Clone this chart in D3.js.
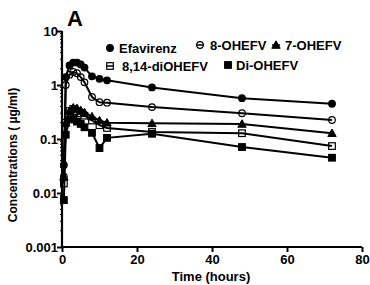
<!DOCTYPE html>
<html>
<head>
<meta charset="utf-8">
<script src="https://cdn.jsdelivr.net/npm/d3@7"></script>
<style>
body{margin:0;background:#fff;}
text{font-family:"Liberation Sans",Arial,sans-serif;font-weight:bold;fill:#000;}
</style>
</head>
<body>
<div id="chart"></div>
<script>
// sampling times (hours)
var times = [0.5, 1, 2, 3, 4, 5, 6, 8, 10, 12, 24, 48, 72];

// concentrations (ug/ml)
var efavirenz = [0.033, 1.4, 2.3, 2.6, 2.6, 2.4, 2.1, 1.45, 1.3, 1.22, 0.9, 0.57, 0.45];
var oh8 = [0.02, 1.0, 1.55, 1.75, 1.65, 1.4, 1.12, 0.6, 0.48, 0.47, 0.39, 0.3, 0.225];
var oh7 = [0.02, 0.2, 0.33, 0.38, 0.37, 0.34, 0.31, 0.26, 0.22, 0.2, 0.195, 0.19, 0.128];
var dioh814 = [0.015, 0.2, 0.33, 0.36, 0.33, 0.3, 0.27, 0.22, 0.18, 0.16, 0.135, 0.128, 0.074];
var dioh = [0.0074, 0.12, 0.23, 0.24, 0.21, 0.19, 0.165, 0.13, 0.068, 0.105, 0.125, 0.071, 0.045];

var names = ["Efavirenz", "8-OHEFV", "7-OHEFV", "8,14-diOHEFV", "Di-OHEFV"];
var xTicks = [0, 20, 40, 60, 80];
var yTicks = [0.001, 0.01, 0.1, 1, 10];

var series = [
  {name: names[0], vals: efavirenz, sym: "circle", fill: true},
  {name: names[1], vals: oh8, sym: "circle", fill: false},
  {name: names[2], vals: oh7, sym: "triangle", fill: true},
  {name: names[3], vals: dioh814, sym: "square", fill: false},
  {name: names[4], vals: dioh, sym: "square", fill: true}
];

var svg = d3.select("#chart").append("svg")
  .attr("width", 370).attr("height", 285);

var x = d3.scaleLinear().domain([0, 80]).range([62, 362]);
var y = d3.scaleLog().domain([0.001, 10]).range([247, 31]);

// axes
var xAxis = svg.append("g").attr("transform", "translate(0,247)")
  .call(d3.axisBottom(x).tickValues(xTicks).tickSize(5).tickFormat(d3.format("d")));
var yAxis = svg.append("g").attr("transform", "translate(62,0)")
  .call(d3.axisLeft(y).tickValues(yTicks).tickSize(5).tickFormat(function(d){return String(d);}));

[xAxis, yAxis].forEach(function(a){
  a.select(".domain").attr("stroke", "#000").attr("stroke-width", 2.2);
  a.selectAll(".tick line").attr("stroke", "#000").attr("stroke-width", 2);
  a.selectAll(".tick text").style("font-size", "13px").style("font-family", "Liberation Sans, Arial, sans-serif").style("font-weight", "bold").attr("fill", "#000");
});
yAxis.select(".domain").attr("d", "M0,247V31");
xAxis.select(".domain").attr("d", "M62,0H362");
yAxis.selectAll(".tick text").attr("x", -4);
xAxis.selectAll(".tick text").attr("y", 8);

// minor log ticks
var minor = [];
[0.001, 0.01, 0.1, 1].forEach(function(b){ for (var k = 2; k < 10; k++) minor.push(b * k); });
svg.append("g").selectAll("line").data(minor).enter().append("line")
  .attr("x1", 60).attr("x2", 62)
  .attr("y1", function(d){return y(d);}).attr("y2", function(d){return y(d);})
  .attr("stroke", "#000").attr("stroke-width", 1);

// axis titles
svg.append("text").text("Time (hours)")
  .attr("x", 211).attr("y", 281).attr("text-anchor", "middle")
  .style("font-size", "13px");
svg.append("text").text("Concentrations ( \u00b5g/ml)")
  .attr("transform", "translate(17,155)rotate(-90)")
  .attr("text-anchor", "middle")
  .style("font-size", "12px");
svg.append("text").text("A")
  .attr("x", 67).attr("y", 26)
  .style("font-size", "22px");

function symbol(g, s, cx, cy) {
  var fill = s.fill ? "#000" : "none";
  if (s.sym === "circle") {
    g.append("circle").attr("cx", cx).attr("cy", cy).attr("r", 3.3)
      .attr("fill", fill).attr("stroke", "#000").attr("stroke-width", 1.2);
  } else if (s.sym === "square") {
    g.append("rect").attr("x", cx - 3.3).attr("y", cy - 3.3).attr("width", 6.6).attr("height", 6.6)
      .attr("fill", fill).attr("stroke", "#000").attr("stroke-width", 1.2);
  } else {
    g.append("path").attr("d", "M" + cx + "," + (cy - 4.2) + "L" + (cx + 4.2) + "," + (cy + 3.3) + "L" + (cx - 4.2) + "," + (cy + 3.3) + "Z")
      .attr("fill", fill).attr("stroke", "#000").attr("stroke-width", 1);
  }
}

var line = d3.line()
  .x(function(d){return x(d[0]);})
  .y(function(d){return y(d[1]);});

series.forEach(function(s){
  var pts = times.map(function(t, i){return [t, s.vals[i]];});
  svg.append("path").datum(pts).attr("d", line)
    .attr("fill", "none").attr("stroke", "#000").attr("stroke-width", 2);
});
series.forEach(function(s){
  var g = svg.append("g");
  times.forEach(function(t, i){ symbol(g, s, x(t), y(s.vals[i])); });
});

// legend
var legendPos = [[110, 48, 119], [200, 45, 210], [276, 45, 285], [110, 66, 122], [228, 65, 236]];
series.forEach(function(s, i){
  var p = legendPos[i];
  var g = svg.append("g");
  g.append("line").attr("x1", p[0] - 4).attr("x2", p[0] + 4).attr("y1", p[1]).attr("y2", p[1])
    .attr("stroke", "#000").attr("stroke-width", 1.5);
  symbol(g, s, p[0], p[1]);
  g.append("text").text(s.name).attr("x", p[2]).attr("y", p[1] + 5)
    .style("font-size", "13px");
});
</script>
</body>
</html>
